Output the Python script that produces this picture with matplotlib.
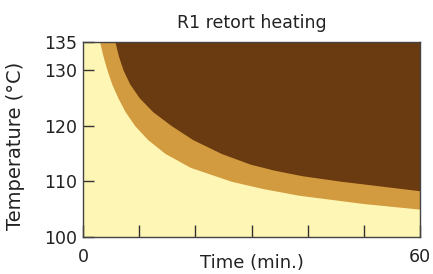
import matplotlib
matplotlib.use("Agg")
import matplotlib.pyplot as plt

# boundary light/orange (time min, temperature C)
inner_t = [2.97, 3.55, 4.27, 5.1, 6.2, 7.5, 9.2, 11.5, 14.6, 19.1, 26.4, 32.0, 38.4, 50.0, 60.0]
inner_T = [135.0, 132.5, 130.0, 127.5, 125.0, 122.5, 120.0, 117.5, 115.0, 112.5, 110.0, 108.7, 107.5, 106.0, 105.0]

# boundary orange/dark
outer_t = [5.7, 6.3, 7.12, 8.3, 10.0, 12.4, 15.7, 19.5, 24.6, 29.7, 34.0, 39.0, 46.0, 60.0]
outer_T = [135.0, 132.5, 130.0, 127.5, 125.0, 122.5, 120.0, 117.5, 115.0, 113.1, 112.0, 111.0, 110.0, 108.3]

light = "#fef6b4"
orange = "#d39b3f"
dark = "#6a3a10"

fig = plt.figure(figsize=(4.33, 2.74), dpi=100)
ax = fig.add_axes([0.1917, 0.135, 0.7783, 0.7117])

ax.set_facecolor(light)
ax.fill_between(inner_t, inner_T, 135, color=orange, lw=0)
ax.fill_between(outer_t, outer_T, 135, color=dark, lw=0)

ax.set_xlim(0, 60)
ax.set_ylim(100, 135)
ax.set_xticks([0, 10, 20, 30, 40, 50, 60])
ax.set_xticklabels(["0", "", "", "", "", "", "60"])
ax.set_yticks([100, 110, 120, 130, 135])
ax.tick_params(axis="x", direction="in", length=9, width=1, color="#333333",
               labelsize=12.5, pad=8, labelcolor="#222222")
ax.tick_params(axis="y", direction="in", length=8, width=1, color="#333333",
               labelsize=12.5, pad=4, labelcolor="#222222")
for s in ax.spines.values():
    s.set_color("#444444")
    s.set_linewidth(1)

ax.set_title("R1 retort heating", fontsize=12.5, color="#222222", pad=10)
ax.set_xlabel("Time (min.)", fontsize=13, color="#222222")
ax.xaxis.set_label_coords(0.5015, -0.085)
ax.set_ylabel("Temperature (°C)", fontsize=14, color="#222222")
ax.yaxis.set_label_coords(-0.172, 0.467)

fig.savefig("out.png", dpi=100)
